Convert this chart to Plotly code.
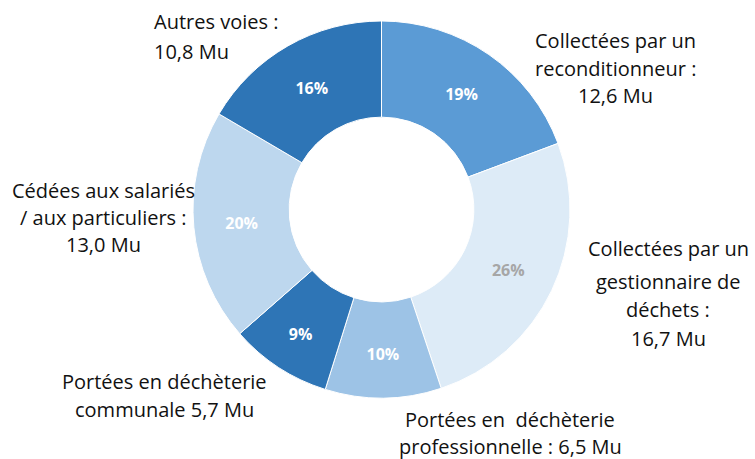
import plotly.graph_objects as go

categories = [
    "Collectées par un reconditionneur",
    "Collectées par un gestionnaire de déchets",
    "Portées en déchèterie professionnelle",
    "Portées en déchèterie communale",
    "Cédées aux salariés / aux particuliers",
    "Autres voies",
]
values = [12.6, 16.7, 6.5, 5.7, 13.0, 10.8]
percent_labels = ["19%", "26%", "10%", "9%", "20%", "16%"]
colors = ["#5B9BD5", "#DDEBF7", "#9DC3E6", "#2E75B6", "#BDD7EE", "#2E75B6"]
text_colors = ["white", "#A6A6A6", "white", "white", "white", "white"]

label_lines = [
    ["Collectées par un", "reconditionneur :", "12,6 Mu"],
    ["Collectées par un", "gestionnaire de", "déchets :", "16,7 Mu"],
    ["Portées en  déchèterie", "professionnelle : 6,5 Mu"],
    ["Portées en déchèterie", "communale 5,7 Mu"],
    ["Cédées aux salariés", "/ aux particuliers :", "13,0 Mu"],
    ["Autres voies :", "10,8 Mu"],
]
# label anchor (pixel x, list of pixel y centres, alignment)
label_pos = [
    (615, [40, 68, 95], "center"),
    (668, [249, 281, 309, 338], "center"),
    (510, [419, 446], "center"),
    (164, [381, 409], "center"),
    (103, [190, 218, 245], "center"),
    (152, [22, 52], "left"),
]

W, H = 755, 459
font_family = "'Open Sans', sans-serif"

fig = go.Figure(go.Pie(
    labels=categories,
    values=values,
    text=percent_labels,
    textinfo="text",
    hole=0.49,
    sort=False,
    direction="clockwise",
    rotation=0,
    marker=dict(colors=colors, line=dict(color="white", width=1)),
    textposition="inside",
    insidetextorientation="horizontal",
    textfont=dict(family=font_family, size=16, color=text_colors, weight="bold"),
    showlegend=False,
    hoverinfo="none",
    domain=dict(x=[193 / W, 570 / W], y=[1 - 398 / H, 1 - 21 / H]),
))

annotations = []
for lines, (px, pys, align) in zip(label_lines, label_pos):
    for line, py in zip(lines, pys):
        annotations.append(dict(
            text=line, x=px / W, y=1 - py / H, xref="paper", yref="paper",
            xanchor="left" if align == "left" else "center", yanchor="middle",
            showarrow=False, font=dict(family=font_family, size=20, color="#111111"),
        ))

fig.update_layout(
    width=W, height=H,
    margin=dict(l=0, r=0, t=0, b=0),
    paper_bgcolor="white", plot_bgcolor="white",
    annotations=annotations,
    uniformtext=dict(minsize=16, mode="show"),
)

fig.write_html(
    "out.html",
    config={"displayModeBar": False},
    post_script="document.body.style.margin='0';document.body.style.overflow='hidden';",
)
